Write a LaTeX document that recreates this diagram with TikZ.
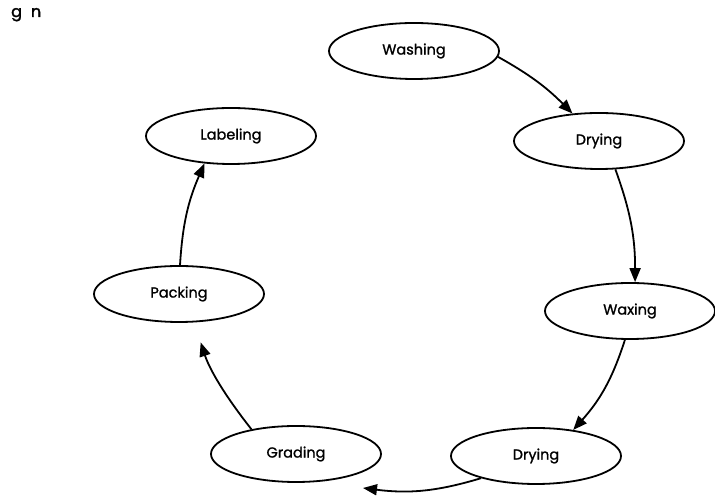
\documentclass[tikz,border=0pt]{standalone}
\usepackage{fontspec}
\setmainfont{Poppins}[FakeBold=1.2]
\newfontfamily\fragfont{Poppins}[FakeBold=2]
\usetikzlibrary{shapes.geometric,arrows.meta}
\begin{document}
\begin{tikzpicture}[x=1pt,y=1pt,
  stage/.style={ellipse, draw, line width=1.8pt, minimum width=170pt, minimum height=56pt, inner sep=0pt, font=\fontsize{14.5}{16}\selectfont},
  flow/.style={-{Triangle[length=14pt,width=11pt]}, line width=1.8pt},
  frag/.style={font=\fragfont\fontsize{16}{16}\selectfont, anchor=base west, inner sep=0pt}]
\useasboundingbox (0,0) rectangle (715,497);
\node[frag] (fragment) at (11,480) {g\hspace{9pt}n};
\node[stage] (wash) at (414,446) {Washing};
\node[stage] (dry1) at (599,356) {Drying};
\node[stage] (wax) at (630,186) {Waxing};
\node[stage] (dry2) at (536,41) {Drying};
\node[stage] (grad) at (296,43) {Grading};
\node[stage] (pack) at (179,203) {Packing};
\node[stage] (lab) at (231,361) {Labeling};
\coordinate (gradin) at (363,9);
\draw[flow] (wash.-4) to[bend left=8] (dry1.134);
\draw[flow] (dry1.-60) to[bend left=10] (wax.80);
\draw[flow] (wax.-100) to[bend left=12] (dry2.35);
\draw[flow] (dry2.-158) to[bend left=12] (gradin);
\draw[flow, shorten >=21pt] (grad.151) to[bend left=10] (pack.-62);
\draw[flow] (pack.88) to[bend left=10] (lab.-134);
\end{tikzpicture}
\end{document}
